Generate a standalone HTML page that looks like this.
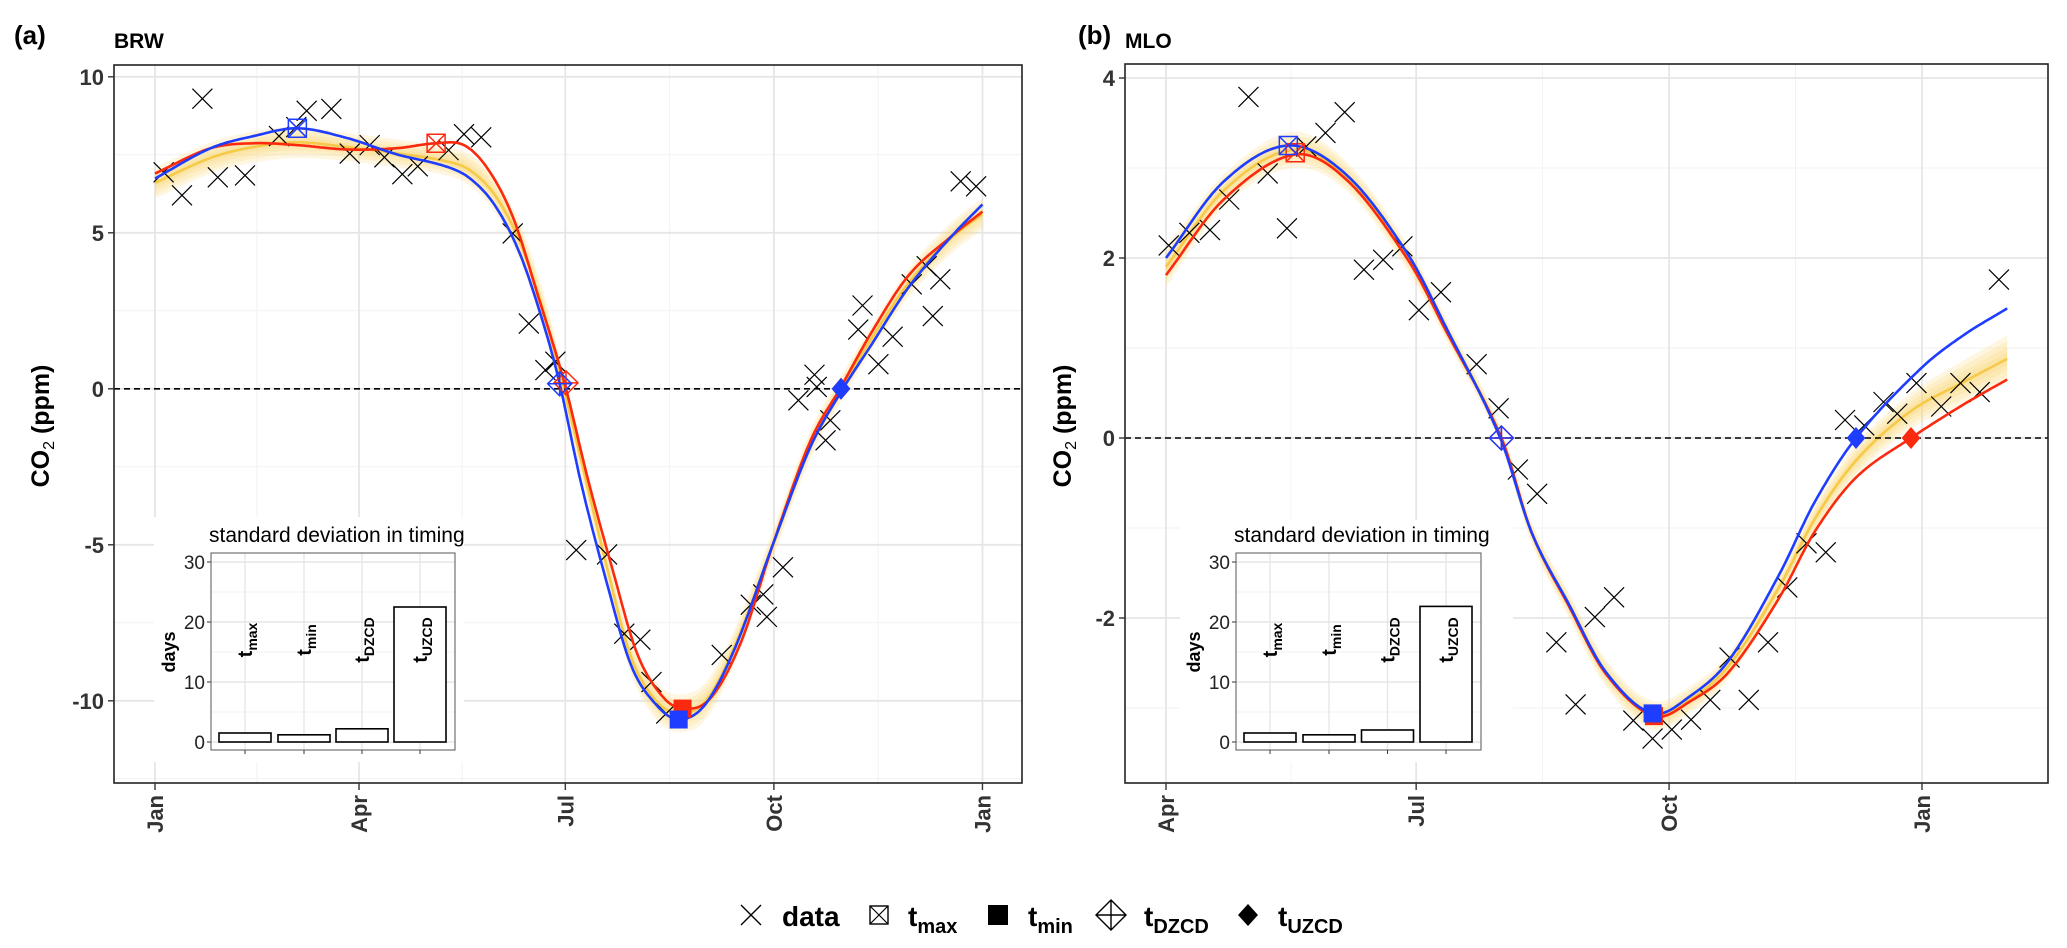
<!DOCTYPE html>
<html><head><meta charset="utf-8"><style>
html,body{margin:0;padding:0;background:#fff;}
svg{display:block;font-family:"Liberation Sans",sans-serif;}
</style></head><body>
<svg id="chart" width="2067" height="948" viewBox="0 0 2067 948" xmlns="http://www.w3.org/2000/svg">
<text x="14" y="44" font-size="26" font-weight="bold" fill="#000">(a)</text>
<text x="114" y="48" font-size="21" font-weight="bold" fill="#000">BRW</text>
<text x="1078" y="44" font-size="26" font-weight="bold" fill="#000">(b)</text>
<text x="1125" y="48" font-size="21" font-weight="bold" fill="#000">MLO</text>
<g id="pa"></g>
<g id="pb"></g>
<g id="legend">
  <g>
    <path d="M741,905 L761,925 M761,905 L741,925" stroke="#000" stroke-width="1.4" fill="none"/>
    <text x="782" y="926" font-size="28" font-weight="bold">data</text>
  </g>
  <g>
    <rect x="870" y="906" width="18" height="18" fill="none" stroke="#000" stroke-width="1.4"/>
    <path d="M870,906 L888,924 M888,906 L870,924" stroke="#000" stroke-width="1.2"/>
    <text x="908" y="926" font-size="28" font-weight="bold">t<tspan font-size="20" dy="7">max</tspan></text>
  </g>
  <g>
    <rect x="988" y="905" width="20" height="20" fill="#000"/>
    <text x="1028" y="926" font-size="28" font-weight="bold">t<tspan font-size="20" dy="7">min</tspan></text>
  </g>
  <g>
    <path d="M1111,900 L1126,915 L1111,930 L1096,915 Z M1096,915 L1126,915 M1111,900 L1111,930" fill="none" stroke="#000" stroke-width="1.4"/>
    <text x="1144" y="926" font-size="28" font-weight="bold">t<tspan font-size="20" dy="7">DZCD</tspan></text>
  </g>
  <g>
    <path d="M1248,904 L1258,915 L1248,926 L1238,915 Z" fill="#000"/>
    <text x="1278" y="926" font-size="28" font-weight="bold">t<tspan font-size="20" dy="7">UZCD</tspan></text>
  </g>
</g>
</svg>
<script>
// ---------- Panel (a) BRW data ----------
const aDataDays=[3.8,11.9,20.9,27.7,39.7,54.7,62.3,66.9,77.8,85.9,94.7,101.2,109.1,115.9,129.5,136.3,143.9,157.8,164.9,172.2,176.6,185.8,199.4,207,214.1,219,225.5,250,262.8,268.3,269.9,277,283.8,290.9,291.9,295.8,297.9,310.2,312.1,319.1,325.4,333.8,340.4,343.1,346.4,355.4,362.2];
const aDataVals=[6.94,6.2,9.3,6.78,6.84,8.1,8.39,8.91,8.97,7.54,7.81,7.42,6.88,7.13,7.65,8.16,8.06,4.98,2.09,0.6,0.87,-5.17,-5.31,-7.85,-8.04,-9.4,-10.41,-8.53,-6.92,-6.59,-7.31,-5.72,-0.37,0.45,0.06,-1.65,-1.01,1.9,2.67,0.79,1.67,3.35,3.93,2.33,3.51,6.65,6.49];
const aBlueDays=[0,24.5,43.5,62.8,84.6,106.4,128.2,139,150,161,171.7,178.5,188,199,210,221,231,242.7,256,272.6,289,302.6,316,332.5,351.5,365];
const aBlueVals=[6.74,7.71,8.1,8.35,8.04,7.52,7.13,6.74,5.87,4.32,2.0,0.16,-3.04,-6.14,-8.86,-10.12,-10.6,-10.12,-8.28,-4.98,-1.88,-0.1,1.41,3.26,4.9,5.91];
const aRedDays=[0,24.5,43.5,62.8,84.6,106.4,124,136.3,147,158,169,180.6,190.8,201.7,212.6,223.5,232.7,245,258.7,272.6,289,302.6,316,332.5,351.5,365];
const aRedVals=[6.9,7.71,7.87,7.81,7.67,7.71,7.87,7.81,7.03,5.48,2.97,0.19,-2.85,-5.76,-8.47,-9.83,-10.25,-9.92,-8.08,-4.98,-1.69,0.06,1.8,3.64,4.9,5.68];
const aEnsDays=[0,24.5,43.5,62.8,84.6,106.4,128,139,150,161,171.7,180,190,200,210,221,231,243,256,272.6,289,302.6,316,332.5,351.5,365];
const aEnsMean=[6.6,7.4,7.75,7.9,7.75,7.55,7.3,7.0,6.2,4.7,2.4,0.1,-2.9,-5.9,-8.6,-10.0,-10.4,-10.0,-8.2,-4.98,-1.8,0,1.6,3.4,4.85,5.6];
const aEnsSpread=[0.5,0.5,0.5,0.5,0.45,0.45,0.45,0.5,0.55,0.6,0.6,0.5,0.5,0.5,0.55,0.6,0.6,0.6,0.55,0.45,0.45,0.4,0.4,0.45,0.5,0.5];
const aBlueMarkDays=[62.8,231,178.5,302.6];
const aBlueMarkVals=[8.35,-10.6,0.16,0];
const aRedMarkDays=[124,232.7,181.3,302.6];
const aRedMarkVals=[7.87,-10.25,0.19,0];
const aSd=[1.5,1.2,2.2,22.5];
// ---------- Panel (b) MLO data ----------
const bDataDays=[91,98.5,106,113,120,127,134,141,148,155,162,169,176,182,190,203,211,218,225,232,239,246,253,260,267,274,281,288,295,302,309,316,323,330,337,344,351,356,363,372,379,386,393];
const bDataVals=[2.14,2.28,2.31,2.65,3.79,2.94,2.33,3.24,3.39,3.62,1.87,1.98,2.13,1.42,1.62,0.82,0.33,-0.35,-0.62,-2.27,-2.96,-1.99,-1.77,-3.14,-3.34,-3.24,-3.13,-2.91,-2.44,-2.91,-2.27,-1.66,-1.17,-1.27,0.2,0.14,0.4,0.27,0.61,0.35,0.61,0.51,1.76];
const bBlueDays=[90,111,134.5,155.8,178,191.7,211.6,223,236.6,250,267,281,295,313,326,341,364.5,380,396];
const bBlueVals=[2.0,2.85,3.25,2.92,2.04,1.24,0,-1.05,-1.85,-2.6,-3.06,-2.86,-2.46,-1.52,-0.71,0,0.77,1.14,1.44];
const bRedDays=[90,111,137,156,178,191.7,212,223,236.6,250,267.5,281,295,313,326,341,361,380,396];
const bRedVals=[1.81,2.65,3.15,2.86,1.98,1.2,0,-1.05,-1.87,-2.62,-3.09,-2.92,-2.59,-1.78,-1.04,-0.44,0,0.37,0.65];
const bEnsDays=[90,111,136,156,178,191.7,212,223,236.6,250,267,281,295,313,326,341,361,380,396];
const bEnsMean=[1.9,2.75,3.2,2.9,2.0,1.22,0,-1.05,-1.86,-2.61,-3.08,-2.9,-2.52,-1.66,-0.9,-0.25,0.3,0.62,0.88];
const bEnsSpread=[0.22,0.18,0.2,0.16,0.14,0.12,0.1,0.12,0.14,0.15,0.16,0.15,0.14,0.14,0.16,0.18,0.2,0.24,0.26];
const bBlueMarkDays=[134.5,267,212,341];
const bBlueMarkVals=[3.25,-3.06,0,0];
const bRedMarkDays=[137,267.5,212,361];
const bRedMarkVals=[3.17,-3.09,0,0];
const bSd=[1.5,1.2,2.0,22.6];
// ---------- shared axis labels ----------
const aXTickDays=[0,90,181,273,365];
const aXTickLabels=['Jan','Apr','Jul','Oct','Jan'];
const aXMinorDays=[45,135.5,227,319];
const aYTicks=[-10,-5,0,5,10];
const aYMinor=[-12.5,-7.5,-2.5,2.5,7.5];
const bXTickDays=[90,181,273,365];
const bXTickLabels=['Apr','Jul','Oct','Jan'];
const bXMinorDays=[135.5,227,319];
const bYTicks=[-2,0,2,4];
const bYMinor=[-3,-1,1,3];
const sdLabels=['max','min','DZCD','UZCD'];
const sdTicks=[0,10,20,30];
const sdMinor=[5,15,25];

const NS='http://www.w3.org/2000/svg';
function mk(parent,tag,attrs){const e=document.createElementNS(NS,tag);for(const k in attrs)e.setAttribute(k,attrs[k]);parent.appendChild(e);return e;}
function interp(xs,ys,x){
  let n=xs.length; if(x<=xs[0])return ys[0]; if(x>=xs[n-1])return ys[n-1];
  let i=0; while(xs[i+1]<x)i++;
  const slope=(j)=>{ if(j===0)return (ys[1]-ys[0])/(xs[1]-xs[0]); if(j===n-1)return (ys[n-1]-ys[n-2])/(xs[n-1]-xs[n-2]); return (ys[j+1]-ys[j-1])/(xs[j+1]-xs[j-1]); };
  const h=xs[i+1]-xs[i], t=(x-xs[i])/h, m0=slope(i)*h, m1=slope(i+1)*h;
  const t2=t*t,t3=t2*t;
  return (2*t3-3*t2+1)*ys[i]+(t3-2*t2+t)*m0+(-2*t3+3*t2)*ys[i+1]+(t3-t2)*m1;
}
function drawPanel(g,cfg){
  const X=cfg.x, Y=cfg.y, r=cfg.rect;
  const grid=mk(g,'g',{});
  
  
  cfg.xMinor.forEach(d=>mk(grid,'line',{x1:X(d),x2:X(d),y1:r.t,y2:r.b,stroke:'#f2f2f2','stroke-width':1}));
  cfg.yMinor.forEach(v=>mk(grid,'line',{x1:r.l,x2:r.r,y1:Y(v),y2:Y(v),stroke:'#f2f2f2','stroke-width':1}));
  cfg.xTicks.forEach(d=>mk(grid,'line',{x1:X(d),x2:X(d),y1:r.t,y2:r.b,stroke:'#e6e6e6','stroke-width':1.8}));
  cfg.yTicks.forEach(v=>mk(grid,'line',{x1:r.l,x2:r.r,y1:Y(v),y2:Y(v),stroke:'#e6e6e6','stroke-width':1.8}));
  const ens=mk(g,'g',{});
  
  
  const d0=cfg.ensDays[0], d1=cfg.ensDays[cfg.ensDays.length-1];
  [1,0.75,0.5,0.28].forEach(k=>{
    let up=[],dn=[];
    for(let d=d0;d<=d1+0.01;d+=1){const m=interp(cfg.ensDays,cfg.ensMean,d),s=interp(cfg.ensDays,cfg.ensSpread,d)*k;up.push(X(d).toFixed(1)+','+Y(m+s).toFixed(1));dn.unshift(X(d).toFixed(1)+','+Y(m-s).toFixed(1));}
    mk(ens,'polygon',{points:up.concat(dn).join(' '),fill:'#fbd470','fill-opacity':0.22,stroke:'none'});
  });
  const line=(days,vals,color,name)=>{
    let pts=[];for(let d=days[0];d<=days[days.length-1]+0.01;d+=1)pts.push(X(d).toFixed(1)+','+Y(interp(days,vals,d)).toFixed(1));
    const p=mk(g,'polyline',{points:pts.join(' '),fill:'none',stroke:color,'stroke-width':2.6,'stroke-linejoin':'round'});
    
    
  };
  line(cfg.ensDays,cfg.ensMean,'#f7c948','ensemble-center');
  const z=mk(g,'line',{x1:r.l,x2:r.r,y1:Y(0),y2:Y(0),stroke:'#000','stroke-width':1.6,'stroke-dasharray':'6,4'});
  
  
  const dg=mk(g,'g',{});
  
  
  cfg.dataDays.forEach((d,i)=>{const cx=X(d),cy=Y(cfg.dataVals[i]),s=10;
    const p=mk(dg,'path',{d:`M${cx-s},${cy-s}L${cx+s},${cy+s}M${cx+s},${cy-s}L${cx-s},${cy+s}`,stroke:'#000','stroke-width':1.2,fill:'none'});
    
    
  });
  line(cfg.redDays,cfg.redVals,'#fb2a0e','red-fit-line');
  line(cfg.blueDays,cfg.blueVals,'#1f3dff','blue-fit-line');
  const markers=(days,vals,color,pre)=>{
    let cx=X(days[0]),cy=Y(vals[0]),s=9;
    let m=mk(g,'path',{d:`M${cx-s},${cy-s}h${2*s}v${2*s}h${-2*s}Z M${cx-s},${cy-s}L${cx+s},${cy+s}M${cx+s},${cy-s}L${cx-s},${cy+s}`,fill:'none',stroke:color,'stroke-width':1.5});
    
    
    cx=X(days[1]);cy=Y(vals[1]);
    m=mk(g,'rect',{x:cx-9,y:cy-9,width:18,height:18,fill:color});
    
    
    cx=X(days[2]);cy=Y(vals[2]);s=12;
    m=mk(g,'path',{d:`M${cx},${cy-s}L${cx+s},${cy}L${cx},${cy+s}L${cx-s},${cy}Z M${cx-s},${cy}H${cx+s} M${cx},${cy-s}V${cy+s}`,fill:'none',stroke:color,'stroke-width':1.5});
    
    
    cx=X(days[3]);cy=Y(vals[3]);s=11;
    m=mk(g,'path',{d:`M${cx},${cy-s}L${cx+s*0.85},${cy}L${cx},${cy+s}L${cx-s*0.85},${cy}Z`,fill:color});
    
    
  };
  markers(cfg.redMarkDays,cfg.redMarkVals,'#fb2a0e','red');
  markers(cfg.blueMarkDays,cfg.blueMarkVals,'#1f3dff','blue');
  const ins=mk(g,'g',{});
  
  
  const I=cfg.inset;
  mk(ins,'rect',{x:I.bgL,y:I.bgT,width:I.bgR-I.bgL,height:I.bgB-I.bgT,fill:'#fff'});
  const it=mk(ins,'text',{x:I.l-2,y:I.t-11,'font-size':21,fill:'#000'});
  it.textContent='standard deviation in timing';
  
  
  const IY=v=>I.y0-v*I.k;
  sdMinor.forEach(v=>mk(ins,'line',{x1:I.l,x2:I.r,y1:IY(v),y2:IY(v),stroke:'#f2f2f2','stroke-width':1}));
  sdTicks.forEach(v=>{mk(ins,'line',{x1:I.l,x2:I.r,y1:IY(v),y2:IY(v),stroke:'#e6e6e6','stroke-width':1.4});
    mk(ins,'line',{x1:I.l-4,x2:I.l,y1:IY(v),y2:IY(v),stroke:'#333','stroke-width':1});
    const t=mk(ins,'text',{x:I.l-6,y:IY(v)+7,'font-size':19,'text-anchor':'end',fill:'#222'});t.textContent=v;
    
    });
  I.centers.forEach(c=>mk(ins,'line',{x1:c,x2:c,y1:I.t,y2:I.b,stroke:'#e6e6e6','stroke-width':1.4}));
  cfg.sd.forEach((v,i)=>{const c=I.centers[i];
    const b=mk(ins,'rect',{x:c-26,y:IY(v),width:52,height:v*I.k,fill:'#fff',stroke:'#000','stroke-width':1.6});
    
    
    mk(ins,'line',{x1:c,x2:c,y1:I.b,y2:I.b+4,stroke:'#333','stroke-width':1});
    const t=mk(ins,'text',{x:0,y:0,'font-size':20,'font-weight':'bold','text-anchor':'middle',transform:`translate(${c+7},640) rotate(-90)`});
    t.innerHTML='t<tspan font-size="14" dy="5">'+sdLabels[i]+'</tspan>';
    
    
  });
  mk(ins,'rect',{x:I.l,y:I.t,width:I.r-I.l,height:I.b-I.t,fill:'none',stroke:'#555','stroke-width':1});
  const dl=mk(ins,'text',{x:0,y:0,'font-size':18,'font-weight':'bold','text-anchor':'middle',transform:`translate(${I.l-36},652) rotate(-90)`});
  dl.textContent='days';
  
  
  mk(g,'rect',{x:r.l,y:r.t,width:r.r-r.l,height:r.b-r.t,fill:'none',stroke:'#222','stroke-width':1.6});
  cfg.yTicks.forEach(v=>{mk(g,'line',{x1:r.l-6,x2:r.l,y1:Y(v),y2:Y(v),stroke:'#333','stroke-width':1.4});
    const t=mk(g,'text',{x:r.l-10,y:Y(v)+8,'font-size':22,'font-weight':'bold','text-anchor':'end',fill:'#333'});t.textContent=v;
    
    });
  cfg.xTicks.forEach((d,i)=>{mk(g,'line',{x1:X(d),x2:X(d),y1:r.b,y2:r.b+7,stroke:'#333','stroke-width':1.4});
    const t=mk(g,'text',{x:0,y:0,'font-size':22,'font-weight':'bold','text-anchor':'end',fill:'#333',transform:`translate(${X(d)+8},${r.b+12}) rotate(-90)`});t.textContent=cfg.xLabels[i];
    
    });
  const yt=mk(g,'text',{x:0,y:0,'font-size':25,'font-weight':'bold','text-anchor':'middle',fill:'#000',transform:`translate(${cfg.ytx},426) rotate(-90)`});
  yt.innerHTML='CO<tspan font-size="16" font-weight="normal" dy="5">2</tspan><tspan dy="-5"> (ppm)</tspan>';
  
  
}
drawPanel(document.getElementById('pa'),{
  x:d=>155+d*2.267, y:v=>388.8-v*31.2, rect:{l:114,r:1022,t:65,b:783},
  xTicks:aXTickDays,xLabels:aXTickLabels,xMinor:aXMinorDays,yTicks:aYTicks,yMinor:aYMinor,
  dataDays:aDataDays,dataVals:aDataVals,blueDays:aBlueDays,blueVals:aBlueVals,redDays:aRedDays,redVals:aRedVals,
  ensDays:aEnsDays,ensMean:aEnsMean,ensSpread:aEnsSpread,
  blueMarkDays:aBlueMarkDays,blueMarkVals:aBlueMarkVals,redMarkDays:aRedMarkDays,redMarkVals:aRedMarkVals,
  sd:aSd, ytx:49,
  inset:{bgL:154,bgR:464,bgT:517,bgB:762,l:211,r:455,t:553,b:750,y0:742,k:6,centers:[245,304,362,420]}
});
drawPanel(document.getElementById('pb'),{
  x:d=>1166+(d-90)*2.749, y:v=>438-v*90, rect:{l:1125,r:2048,t:64,b:783},
  xTicks:bXTickDays,xLabels:bXTickLabels,xMinor:bXMinorDays,yTicks:bYTicks,yMinor:bYMinor,
  dataDays:bDataDays,dataVals:bDataVals,blueDays:bBlueDays,blueVals:bBlueVals,redDays:bRedDays,redVals:bRedVals,
  ensDays:bEnsDays,ensMean:bEnsMean,ensSpread:bEnsSpread,
  blueMarkDays:bBlueMarkDays,blueMarkVals:bBlueMarkVals,redMarkDays:bRedMarkDays,redMarkVals:bRedMarkVals,
  sd:bSd, ytx:1071,
  inset:{bgL:1180,bgR:1513,bgT:520,bgB:762,l:1236,r:1481,t:553,b:750,y0:742,k:6,centers:[1270,1329,1387.5,1446]}
});
</script>
</body></html>
